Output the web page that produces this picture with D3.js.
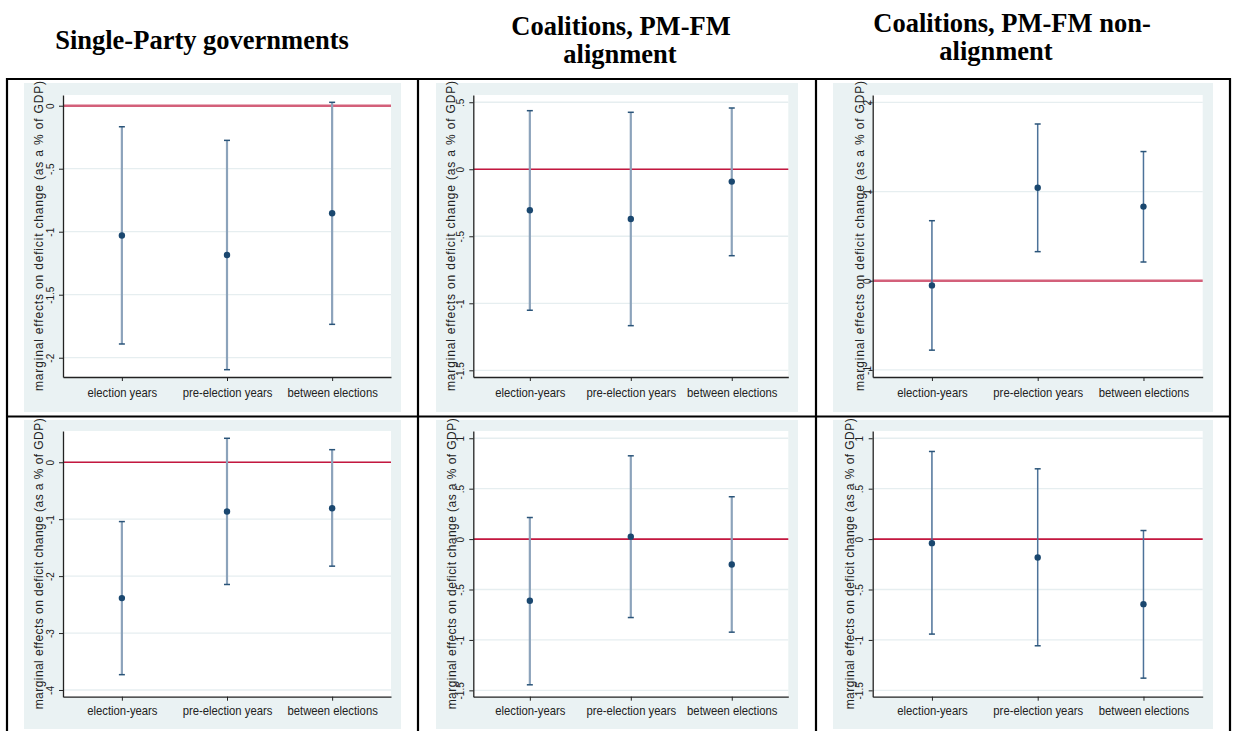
<!DOCTYPE html>
<html>
<head>
<meta charset="utf-8">
<script src="https://cdn.jsdelivr.net/npm/d3@7"></script>
<style>
  body { margin: 0; background: #fff; }
  text { font-family: "Liberation Sans", Arial, sans-serif; }
</style>
</head>
<body>
<svg id="chart" width="1240" height="731"></svg>
<script>
// ---- data ----
const colTitles = [
  ["Single-Party governments"],
  ["Coalitions, PM-FM", "alignment"],
  ["Coalitions, PM-FM non-", "alignment"]
];
const catsSingleTop = ["election years", "pre-election years", "between elections"];
const catsOther = ["election-years", "pre-election years", "between elections"];
const yTitle = "marginal effects on deficit change (as a % of GDP)";

// top row
const singleTopEst = [-1.03, -1.185, -0.854];
const singleTopLo = [-1.891, -2.095, -1.735];
const singleTopHi = [-0.167, -0.275, 0.027];
const alignTopEst = [-0.306, -0.371, -0.092];
const alignTopLo = [-1.052, -1.167, -0.645];
const alignTopHi = [0.437, 0.425, 0.457];
const nonAlignTopEst = [-0.052, 1.042, 0.831];
const nonAlignTopLo = [-0.778, 0.326, 0.21];
const nonAlignTopHi = [0.673, 1.757, 1.448];

// bottom row
const singleBotEst = [-2.386, -0.866, -0.807];
const singleBotLo = [-3.731, -2.147, -1.825];
const singleBotHi = [-1.042, 0.421, 0.221];
const alignBotEst = [-0.612, 0.023, -0.252];
const alignBotLo = [-1.445, -0.778, -0.923];
const alignBotHi = [0.214, 0.826, 0.42];
const nonAlignBotEst = [-0.04, -0.183, -0.645];
const nonAlignBotLo = [-0.942, -1.058, -1.379];
const nonAlignBotHi = [0.869, 0.697, 0.085];

// y ticks per panel
const ticksSingleTop = [0, -0.5, -1, -1.5, -2];
const ticksAlignTop = [0.5, 0, -0.5, -1, -1.5];
const ticksNonAlignTop = [2, 1, 0, -1];
const ticksSingleBot = [0, -1, -2, -3, -4];
const ticksBot = [1, 0.5, 0, -0.5, -1, -1.5];

// ---- layout ----
const cols = [
  { bg: [24, 401], plot: [63, 391] },
  { bg: [436, 798], plot: [473.3, 788.3] },
  { bg: [833, 1213], plot: [872.7, 1202.7] }
];
const rows = [
  { bg: [83, 412], plot: [95, 377], titleLen: 310, labY: 19.5 },
  { bg: [420, 729], plot: [431, 696.7], titleLen: 291, labY: 18 }
];

const panels = [
  { r: 0, c: 0, cats: catsSingleTop, est: singleTopEst, lo: singleTopLo, hi: singleTopHi, ticks: ticksSingleTop, dom: [-2.153, 0.085], tickOff: 9, titleOff: 20.5, thick: true, dark: false },
  { r: 0, c: 1, cats: catsOther, est: alignTopEst, lo: alignTopLo, hi: alignTopHi, ticks: ticksAlignTop, dom: [-1.55, 0.554], tickOff: 9, titleOff: 18, thick: false, dark: false },
  { r: 0, c: 2, cats: catsOther, est: nonAlignTopEst, lo: nonAlignTopLo, hi: nonAlignTopHi, ticks: ticksNonAlignTop, dom: [-1.079, 2.082], tickOff: 2, titleOff: 9, thick: true, dark: true },
  { r: 1, c: 0, cats: catsOther, est: singleBotEst, lo: singleBotLo, hi: singleBotHi, ticks: ticksSingleBot, dom: [-4.118, 0.549], tickOff: 9, titleOff: 20, thick: false, dark: false },
  { r: 1, c: 1, cats: catsOther, est: alignBotEst, lo: alignBotLo, hi: alignBotHi, ticks: ticksBot, dom: [-1.563, 1.072], tickOff: 9, titleOff: 17, thick: false, dark: false },
  { r: 1, c: 2, cats: catsOther, est: nonAlignBotEst, lo: nonAlignBotLo, hi: nonAlignBotHi, ticks: ticksBot, dom: [-1.563, 1.072], tickOff: 10, titleOff: 18.5, thick: false, dark: true }
];

const svg = d3.select('#chart');
const defs = svg.append('defs');

// Stata-style numbers: .5, -.5
const fmt = v => String(v).replace(/^(-?)0\./, '$1.');

panels.forEach((p, i) => {
  const col = cols[p.c], row = rows[p.r];
  const [pl, pr] = col.plot, [pt, pb] = row.plot;

  defs.append('clipPath').attr('id', 'clip' + i)
    .append('rect')
    .attr('x', col.bg[0]).attr('y', row.bg[0] - 3)
    .attr('width', col.bg[1] - col.bg[0]).attr('height', row.bg[1] - row.bg[0] + 3);

  const g = svg.append('g').attr('clip-path', `url(#clip${i})`);

  g.append('rect')
    .attr('x', col.bg[0]).attr('y', row.bg[0])
    .attr('width', col.bg[1] - col.bg[0]).attr('height', row.bg[1] - row.bg[0])
    .attr('fill', '#eaf2f3');

  g.append('rect')
    .attr('x', pl).attr('y', pt)
    .attr('width', pr - pl).attr('height', pb - pt)
    .attr('fill', '#fff');

  const x = d3.scaleLinear().domain([0.44, 3.56]).range([pl, pr]);
  const y = d3.scaleLinear().domain(p.dom).range([pb, pt]);

  // gridlines
  g.selectAll('.grid').data(p.ticks).join('line')
    .attr('x1', pl).attr('x2', pr)
    .attr('y1', d => y(d)).attr('y2', d => y(d))
    .attr('stroke', '#e6eef0').attr('stroke-width', 1.3);

  // zero reference line
  g.append('line')
    .attr('x1', pl).attr('x2', pr)
    .attr('y1', y(0)).attr('y2', y(0))
    .attr('stroke', p.thick ? '#d3607a' : '#c4173f')
    .attr('stroke-width', p.thick ? 2.4 : 1.6);

  // y axis
  const ya = g.append('g').attr('transform', `translate(${pl},0)`)
    .call(d3.axisLeft(y).tickValues(p.ticks).tickSize(4).tickSizeOuter(0).tickFormat(fmt));
  ya.select('.domain').attr('stroke', '#222').attr('stroke-width', 1.3);
  ya.selectAll('.tick line').attr('stroke', '#222');
  ya.selectAll('.tick text')
    .attr('transform', 'rotate(-90)')
    .attr('x', 0).attr('y', -p.tickOff).attr('dy', 0)
    .attr('text-anchor', 'middle')
    .attr('fill', '#222')
    .style('font-size', '10px');

  // x axis (labels slightly stretched vertically, like the resized Stata images)
  const xa = g.append('g').attr('transform', `translate(0,${pb})`)
    .call(d3.axisBottom(x).tickValues([1, 2, 3]).tickSize(4).tickSizeOuter(0).tickFormat(k => p.cats[k - 1]));
  xa.select('.domain').attr('stroke', '#222').attr('stroke-width', 1.3);
  xa.selectAll('.tick line').attr('stroke', '#222');
  xa.selectAll('.tick text')
    .attr('y', 0).attr('dy', 0)
    .attr('transform', `translate(0,${row.labY}) scale(1,1.2)`)
    .attr('fill', '#222')
    .style('font-size', '11.3px');

  // y axis title
  g.append('text')
    .attr('transform', `translate(${pl - p.titleOff},${(pt + pb) / 2}) rotate(-90)`)
    .attr('text-anchor', 'middle')
    .attr('textLength', row.titleLen)
    .attr('fill', '#222')
    .style('font-size', '12px')
    .text(yTitle);

  // confidence intervals + point estimates
  const rowsData = p.est.map((e, k) => ({ k: k + 1, est: e, lo: p.lo[k], hi: p.hi[k] }));
  const barCol = p.dark ? '#4d7299' : '#8ca3bb';

  g.selectAll('.ci').data(rowsData).join('line')
    .attr('x1', d => x(d.k)).attr('x2', d => x(d.k))
    .attr('y1', d => y(d.lo)).attr('y2', d => y(d.hi))
    .attr('stroke', barCol).attr('stroke-width', p.dark ? 1.5 : 2.2);

  ['lo', 'hi'].forEach(end => {
    g.selectAll('.cap-' + end).data(rowsData).join('line')
      .attr('x1', d => x(d.k) - 3).attr('x2', d => x(d.k) + 3)
      .attr('y1', d => y(d[end])).attr('y2', d => y(d[end]))
      .attr('stroke', '#2a5479').attr('stroke-width', 1.5);
  });

  g.selectAll('.pt').data(rowsData).join('circle')
    .attr('cx', d => x(d.k)).attr('cy', d => y(d.est))
    .attr('r', 3.2)
    .attr('fill', '#1a476f');
});

// column titles (Word table header)
const titlePos = [
  { x: [202], y: [49] },
  { x: [621, 620], y: [35, 63] },
  { x: [1012, 996], y: [32, 60] }
];
colTitles.forEach((lines, c) => {
  lines.forEach((t, j) => {
    svg.append('text')
      .attr('x', titlePos[c].x[j])
      .attr('y', titlePos[c].y[j])
      .attr('text-anchor', 'middle')
      .style('font-family', '"Liberation Serif", "Times New Roman", serif')
      .style('font-weight', 'bold')
      .style('font-size', '26.5px')
      .attr('fill', '#000')
      .text(t);
  });
});

// table borders
const hLines = [79, 416.5];
const vLines = [7, 418, 816, 1230];
svg.selectAll('.hb').data(hLines).join('line')
  .attr('x1', 6).attr('x2', 1231)
  .attr('y1', d => d).attr('y2', d => d)
  .attr('stroke', '#000').attr('stroke-width', 2.2);
svg.selectAll('.vb').data(vLines).join('line')
  .attr('x1', d => d).attr('x2', d => d)
  .attr('y1', 78).attr('y2', 731)
  .attr('stroke', '#000').attr('stroke-width', 2.2);
</script>
</body>
</html>
